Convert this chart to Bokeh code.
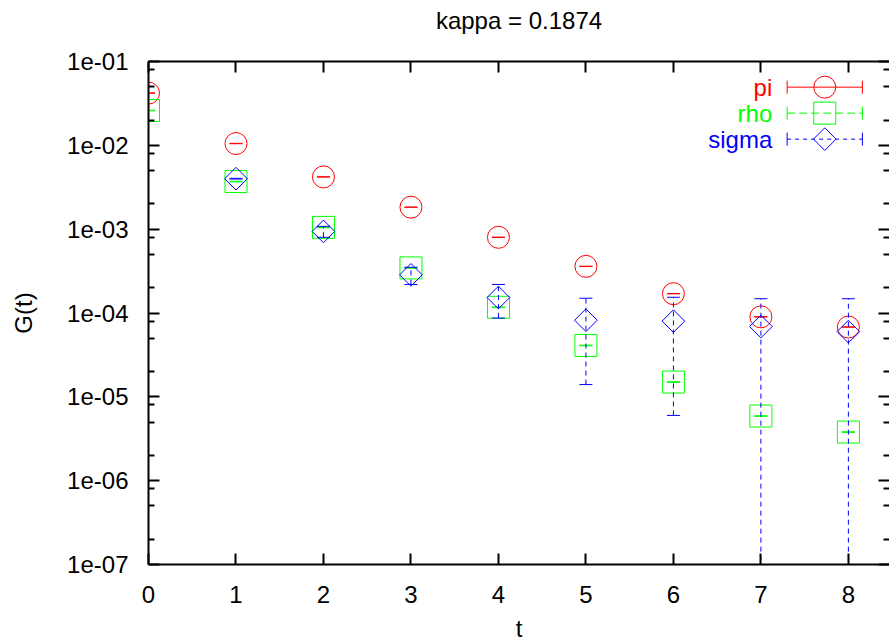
import numpy as np
from bokeh.plotting import figure
from bokeh.models import (FixedTicker, CustomJSTickFormatter, LinearAxis, LogAxis, Range1d)
from bokeh.core.properties import value
from bokeh.embed import file_html
from bokeh.resources import INLINE

# ---------------- data ----------------
TITLE = "kappa = 0.1874"
X_LABEL = "t"
Y_LABEL = "G(t)"
X_TICKS = [0, 1, 2, 3, 4, 5, 6, 7, 8]
Y_TICKS = [1e-7, 1e-6, 1e-5, 1e-4, 1e-3, 1e-2, 1e-1]
Y_TICK_LABELS = ["1e-07", "1e-06", "1e-05", "1e-04", "1e-03", "1e-02", "1e-01"]
SERIES_NAMES = ["pi", "rho", "sigma"]

T_PI = [0, 1, 2, 3, 4, 5, 6, 7, 8]
PI_VAL = [4.2e-2, 1.05e-2, 4.2e-3, 1.83e-3, 8.0e-4, 3.6e-4, 1.7e-4, 9.0e-5, 6.8e-5]
PI_ERR = [2.0e-4, 5.0e-5, 2.0e-5, 8.0e-6, 3.0e-6, 1.5e-6, 8.0e-7, 6.0e-7, 4.0e-7]

T_RHO = [0, 1, 2, 3, 4, 5, 6, 7, 8]
RHO_VAL = [2.6e-2, 3.7e-3, 1.05e-3, 3.45e-4, 1.17e-4, 4.1e-5, 1.5e-5, 5.9e-6, 3.8e-6]
RHO_ERR = [2.0e-4, 3.0e-5, 1.0e-5, 3.0e-6, 1.0e-6, 4.0e-7, 1.5e-7, 6.0e-8, 4.0e-8]

T_SIGMA = [1, 2, 3, 4, 5, 6, 7, 8]
SIGMA_VAL = [4.0e-3, 9.4e-4, 2.85e-4, 1.53e-4, 8.2e-5, 8.0e-5, 6.9e-5, 6.0e-5]
SIGMA_ERR = [4.0e-5, 1.4e-4, 6.6e-5, 6.6e-5, 6.8e-5, 7.4e-5, 7.9e-5, 8.8e-5]

# ---------------- style ----------------
FONT = "Liberation Sans"
FS = "24px"
RED, GREEN, BLUE = "#ff0000", "#00ff00", "#0000ff"

Y_MINOR = [m * 10.0 ** k for k in range(-7, -1) for m in (2, 5, 8)]

p = figure(title=None, frame_width=741, frame_height=503,
           x_range=Range1d(0, 8.47), y_range=Range1d(1e-7, 1e-1),
           y_axis_type="log", output_backend="svg", toolbar_location=None,
           min_border_left=148, min_border_top=61, min_border_right=0,
           min_border_bottom=0, background_fill_color="white",
           border_fill_color="white")
p.outline_line_color = None
p.grid.visible = False

fmt = CustomJSTickFormatter(args=dict(tick_vals=Y_TICKS, tick_labels=Y_TICK_LABELS), code="""
let best = 0, d = Infinity;
for (let i = 0; i < tick_vals.length; i++) {
  const dd = Math.abs(Math.log10(tick_vals[i]) - Math.log10(tick));
  if (dd < d) { d = dd; best = i; }
}
return tick_labels[best];
""")
blank = CustomJSTickFormatter(code="return '';")

def style_axis(ax):
    ax.axis_line_width = 2
    ax.axis_line_color = "black"
    ax.major_tick_line_width = 2
    ax.minor_tick_line_width = 2
    ax.major_tick_line_color = "black"
    ax.minor_tick_line_color = "black"
    ax.major_tick_in = 11
    ax.major_tick_out = 0
    ax.minor_tick_in = 6
    ax.minor_tick_out = 0
    ax.major_label_text_font = FONT
    ax.major_label_text_font_size = FS
    ax.major_label_text_color = "black"
    ax.axis_label_text_font = FONT
    ax.axis_label_text_font_size = FS
    ax.axis_label_text_font_style = "normal"
    ax.axis_label_text_color = "black"

xa = p.xaxis[0]
xa.ticker = FixedTicker(ticks=X_TICKS)
style_axis(xa)
xa.major_label_standoff = 21
xa.axis_label = X_LABEL
xa.axis_label_standoff = 9

ya = p.yaxis[0]
ya.ticker = FixedTicker(ticks=Y_TICKS, minor_ticks=Y_MINOR)
ya.formatter = fmt
style_axis(ya)
ya.major_label_standoff = 20
ya.axis_label = Y_LABEL
ya.axis_label_standoff = 27

# top axis: mirrored ticks, carries the chart title as its label
top = LinearAxis(ticker=FixedTicker(ticks=X_TICKS), formatter=blank)
style_axis(top)
top.major_label_text_font_size = "0px"
top.major_label_standoff = 0
top.axis_label = TITLE
top.axis_label_standoff = 28
p.add_layout(top, "above")

right = LogAxis(ticker=FixedTicker(ticks=Y_TICKS, minor_ticks=Y_MINOR), formatter=blank)
style_axis(right)
right.major_label_text_font_size = "0px"
right.major_label_standoff = 0
right.axis_line_color = None
p.add_layout(right, "right")

# ---------------- series ----------------
def draw_series(t, val, err, color, dash, marker, size, angle=0.0):
    t = np.asarray(t, float)
    v = np.asarray(val, float)
    e = np.asarray(err, float)
    lo = v - e
    hi = v + e
    lo_pos = lo > 0
    lo_plot = np.where(lo_pos, lo, 1e-12)
    p.segment(x0=t, y0=lo_plot, x1=t, y1=hi, line_color=color, line_width=1,
              line_dash=dash)
    p.scatter(x=t, y=hi, marker="dash", size=13, line_color=color, line_width=1)
    p.scatter(x=t[lo_pos], y=lo[lo_pos], marker="dash", size=13, line_color=color,
              line_width=1)
    p.scatter(x=t, y=v, marker=marker, size=size, angle=angle, line_color=color,
              line_width=1, fill_alpha=0)

draw_series(T_PI, PI_VAL, PI_ERR, RED, "solid", "circle", 22)
draw_series(T_RHO, RHO_VAL, RHO_ERR, GREEN, "8 4", "square", 22)
draw_series(T_SIGMA, SIGMA_VAL, SIGMA_ERR, BLUE, "5 4", "square", 16, np.pi / 4)

# ---------------- legend (layout positions in data space) ----------------
LEG_TEXT_X = 7.13
LEG_X0, LEG_XM, LEG_X1 = 7.30, 7.73, 8.16
LEG_Y = [10 ** -1.306, 10 ** -1.616, 10 ** -1.926]
leg_colors = [RED, GREEN, BLUE]
leg_dash = ["solid", "8 4", "4 4"]
leg_marker = [("circle", 22, 0.0), ("square", 22, 0.0), ("square", 16, np.pi / 4)]

p.text(x=[LEG_TEXT_X] * 3, y=LEG_Y, text=SERIES_NAMES, text_color=leg_colors,
       text_align="right", text_baseline="middle", text_font=value(FONT),
       text_font_size=FS)
for y, c, d, (mk, sz, ang) in zip(LEG_Y, leg_colors, leg_dash, leg_marker):
    p.segment(x0=[LEG_X0], y0=[y], x1=[LEG_X1], y1=[y], line_color=c,
              line_width=1, line_dash=d)
    p.scatter(x=[LEG_X0, LEG_X1], y=[y, y], marker="dash", angle=np.pi / 2,
              size=13, line_color=c, line_width=1)
    p.scatter(x=[LEG_XM], y=[y], marker=mk, size=sz, angle=ang, line_color=c,
              line_width=1, fill_alpha=0)

open("out.html", "w").write(file_html(p, INLINE))
